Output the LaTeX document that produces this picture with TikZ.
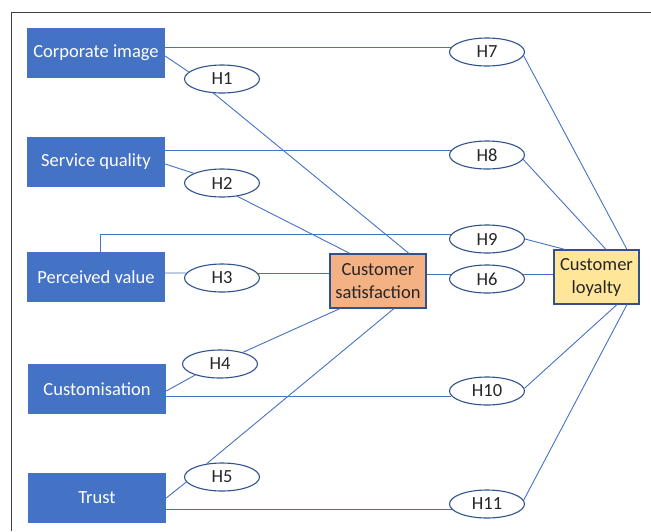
\documentclass[tikz,border=0pt]{standalone}
\usepackage{fontspec}
\setmainfont{Carlito}
\usetikzlibrary{shapes.geometric}

\definecolor{boxblue}{HTML}{4472C4}
\definecolor{rimblue}{HTML}{2F528F}
\definecolor{satorange}{HTML}{F4B183}
\definecolor{loyyellow}{HTML}{FFE699}
\definecolor{framegray}{HTML}{404040}
\definecolor{inkgray}{HTML}{262626}

\tikzset{
  factor/.style={fill=boxblue, text=white, minimum width=138pt,
    minimum height=50pt, inner sep=0pt},
  hyp/.style={ellipse, draw=rimblue, line width=1.1pt, fill=white,
    text=inkgray, minimum width=75pt, minimum height=28pt, inner sep=0pt},
  outcome/.style={draw=rimblue, line width=1.1pt, text=inkgray,
    align=center, inner sep=0pt, font=\fontsize{18.5}{23}\selectfont},
  link/.style={draw=boxblue, line width=0.9pt}
}

\begin{document}
\begin{tikzpicture}[x=1pt,y=-1pt]
  \fontsize{18.5}{21}\selectfont
  \useasboundingbox (0,0) rectangle (651,531);
  \draw[framegray, line width=1.3pt] (11.7,531) -- (11.7,12.5) -- (651,12.5);

  \node[factor] (ci) at (96,53) {Corporate image};
  \node[factor] (sq) at (96,162) {Service quality};
  \node[factor] (pv) at (96,277) {Perceived value};
  \node[factor] (cu) at (97,389) {Customisation};
  \node[factor] (tr) at (97,498) {Trust};

  \node[outcome, fill=satorange, minimum width=96pt, minimum height=54pt]
    (cs) at (378,281) {Customer\\satisfaction};
  \node[outcome, fill=loyyellow, minimum width=85pt, minimum height=54pt]
    (cl) at (596.5,277) {Customer\\loyalty};

  \node[hyp] (h1) at (222,79) {H1};
  \node[hyp] (h2) at (222,183) {H2};
  \node[hyp] (h3) at (222,278) {H3};
  \node[hyp] (h4) at (220,364) {H4};
  \node[hyp] (h5) at (222,477) {H5};
  \node[hyp] (h6) at (487,279) {H6};
  \node[hyp] (h7) at (487,52) {H7};
  \node[hyp] (h8) at (487,155) {H8};
  \node[hyp] (h9) at (487,239) {H9};
  \node[hyp] (h10) at (487,391) {H10};
  \node[hyp] (h11) at (487,504) {H11};

  % paths to satisfaction
  \draw[link] ([yshift=-3pt]ci.east) -- (h1.168);
  \draw[link] (h1.-121) -- ([xshift=31pt]cs.north);
  \draw[link] ([yshift=-2pt]sq.east) -- (h2.161);
  \draw[link] (h2.-41) -- ([xshift=-28pt]cs.north);
  \draw[link] ([yshift=4pt]pv.east) -- (h3.172);
  \draw[link] (h3.8) -- (cs.west |- h3.8);
  \draw[link] ([yshift=-2pt]cu.east) -- (h4.204);
  \draw[link] (h4.27) -- ([xshift=-38pt]cs.south);
  \draw[link] (tr.east) -- (h5.188);
  \draw[link] (h5.139) -- ([xshift=16pt]cs.south);

  % paths to loyalty
  \draw[link] (cs.east |- h6.172) -- (h6.172);
  \draw[link] (h6.8) -- (cl.west |- h6.8);
  \draw[link] (ci.east |- h7.172) -- (h7.172);
  \draw[link] (h7.-6) -- ([xshift=30.5pt]cl.north);
  \draw[link] (sq.east |- h8.172) -- (h8.172);
  \draw[link] (h8.-7) -- ([xshift=9.5pt]cl.north);
  \draw[link] ([xshift=4pt]pv.north) |- (h9.173);
  \draw[link] (h9.east) -- ([xshift=-31.5pt]cl.north);
  \draw[link] (cu.east |- h10.188) -- (h10.188);
  \draw[link] (h10.4) -- ([xshift=20.5pt]cl.south);
  \draw[link] (tr.east |- h11.189) -- (h11.189);
  \draw[link] (h11.6) -- ([xshift=30.5pt]cl.south);
\end{tikzpicture}
\end{document}
